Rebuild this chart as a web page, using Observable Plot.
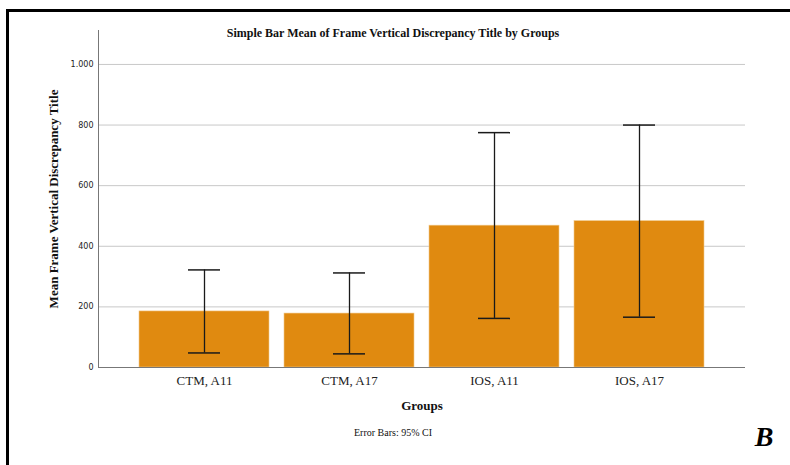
<!DOCTYPE html>
<html>
<head>
<meta charset="utf-8">
<script src="https://cdn.jsdelivr.net/npm/d3@7"></script>
<script src="https://cdn.jsdelivr.net/npm/@observablehq/plot@0.6"></script>
<style>
  html, body { margin: 0; padding: 0; background: #fff; }
  #wrap { position: relative; width: 790px; height: 465px; overflow: hidden; }
  #frame { position: absolute; left: 6px; top: 9px; width: 820px; height: 500px;
           border-left: 3px solid #000; border-top: 3px solid #000; box-sizing: border-box; }
  #chart { position: absolute; left: 0; top: 0; }
</style>
</head>
<body>
<div id="wrap">
  <div id="chart"></div>
  <div id="frame"></div>
</div>
<script>
const groups = ["CTM, A11", "CTM, A17", "IOS, A11", "IOS, A17"];
const means = [185, 178, 468, 483];
const ciLow = [48, 45, 162, 166];
const ciHigh = [322, 312, 775, 800];
const yTicks = [0, 200, 400, 600, 800, 1000];

const data = groups.map((g, i) => ({group: g, mean: means[i], lo: ciLow[i], hi: ciHigh[i]}));

const locale = d3.formatLocale({decimal: ",", thousands: ".", grouping: [3], currency: ["", ""]});
const fmt = locale.format(",");

const serif = "'Liberation Serif', 'Times New Roman', serif";

const chart = Plot.plot({
  width: 790,
  height: 465,
  marginLeft: 98,
  marginRight: 45,
  marginTop: 30,
  marginBottom: 98,
  style: {background: "#fff", overflow: "visible"},
  x: {domain: groups, paddingInner: 0.104, paddingOuter: 0.274, label: null},
  y: {domain: [0, 1112], label: null},
  marks: [
    Plot.gridY(yTicks, {stroke: "#c8c8c8", strokeOpacity: 1, strokeWidth: 1}),
    Plot.barY(data, {x: "group", y: "mean", fill: "#e08a10", stroke: "#f0c88a", strokeWidth: 0.6}),
    Plot.ruleX(data, {x: "group", y1: "lo", y2: "hi", stroke: "#1a1a1a", strokeWidth: 1.3}),
    Plot.tickY(data, {x: "group", y: "lo", stroke: "#1a1a1a", strokeWidth: 1.5, insetLeft: 49, insetRight: 49}),
    Plot.tickY(data, {x: "group", y: "hi", stroke: "#1a1a1a", strokeWidth: 1.5, insetLeft: 49, insetRight: 49}),
    Plot.axisY(yTicks, {tickSize: 0, tickPadding: 5, tickFormat: fmt, label: null,
      fontFamily: "'DejaVu Sans', sans-serif", fontSize: 8, fill: "#222"}),
    Plot.axisX({tickSize: 0, tickPadding: 8, label: null, fontFamily: serif, fontSize: 13, fill: "#222"}),
    Plot.ruleY([0], {stroke: "#777", strokeWidth: 1}),
    Plot.frame({anchor: "left", stroke: "#777", strokeWidth: 1}),
    Plot.text(["Simple Bar Mean of Frame Vertical Discrepancy Title by Groups"], {
      frameAnchor: "top", dx: -29, dy: -2, fontFamily: serif, fontWeight: "bold", fontSize: 12, fill: "#111"}),
    Plot.text(["Mean Frame Vertical Discrepancy Title"], {
      frameAnchor: "left", dx: -45, rotate: -90, textAnchor: "middle", lineAnchor: "middle",
      fontFamily: serif, fontWeight: "bold", fontSize: 13, fill: "#111"}),
    Plot.text(["Groups"], {
      frameAnchor: "bottom", dy: 42, fontFamily: serif, fontWeight: "bold", fontSize: 13, fill: "#111"}),
    Plot.text(["Error Bars: 95% CI"], {
      frameAnchor: "bottom", dx: -29, dy: 68, fontFamily: serif, fontSize: 10, fill: "#111"}),
    Plot.text(["B"], {
      frameAnchor: "bottom-right", dx: 28, dy: 78, fontFamily: serif, fontWeight: "bold", fontStyle: "italic", fontSize: 28, fill: "#000"})
  ]
});
document.getElementById("chart").appendChild(chart);
</script>
</body>
</html>
